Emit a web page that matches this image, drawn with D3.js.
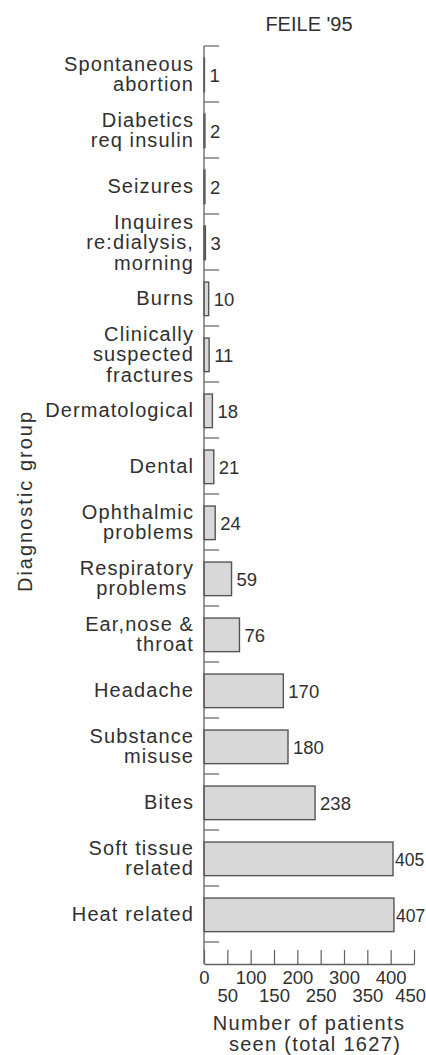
<!DOCTYPE html>
<html>
<head>
<meta charset="utf-8">
<script src="https://cdn.jsdelivr.net/npm/d3@7"></script>
<style>
  body { margin: 0; background: #fff; }
  svg text { font-family: "Liberation Sans", Arial, Helvetica, sans-serif; fill: #303030; }
</style>
</head>
<body>
<div id="chart"></div>
<script>
const categories = [
  'Spontaneous\nabortion',
  'Diabetics\nreq insulin',
  'Seizures',
  'Inquires\nre:dialysis,\nmorning',
  'Burns',
  'Clinically\nsuspected\nfractures',
  'Dermatological',
  'Dental',
  'Ophthalmic\nproblems',
  'Respiratory\nproblems\u00a0',
  'Ear,nose &\nthroat',
  'Headache',
  'Substance\nmisuse',
  'Bites',
  'Soft tissue\nrelated',
  'Heat related'
];
const patients = [1, 2, 2, 3, 10, 11, 18, 21, 24, 59, 76, 170, 180, 238, 405, 407];
const xTicks = [0, 50, 100, 150, 200, 250, 300, 350, 400, 450];
const chartTitle = "FEILE '95";
const yTitle = 'Diagnostic group';
const xTitle = ['Number of patients', 'seen (total 1627)'];

const width = 426;
const height = 1055;
const axisX = 204;
const bandTop = 46;
const bandBottom = 942;
const axisY = 964;
const lineHeight = 20.5;
const ink = '#303030';
const axisColor = '#606060';

const svg = d3.select('#chart').append('svg')
  .attr('width', width)
  .attr('height', height);

const x = d3.scaleLinear().domain([0, 450]).range([axisX, 414]);
const y = d3.scaleBand().domain(categories).range([bandTop, bandBottom]).padding(0);
const bw = y.bandwidth();

const data = categories.map((c, i) => ({ label: c, value: patients[i] }));

// title
svg.append('text')
  .attr('x', 309).attr('y', 31)
  .attr('text-anchor', 'middle')
  .style('font-size', '20px')
  .text(chartTitle);

// bars
svg.append('g').selectAll('rect')
  .data(data)
  .join('rect')
  .attr('x', x(0))
  .attr('y', d => y(d.label) + bw * 0.215)
  .attr('width', d => x(d.value) - x(0))
  .attr('height', bw * 0.6)
  .attr('fill', '#d8d8d8')
  .attr('stroke', '#555')
  .attr('stroke-width', 1.4);

// value labels (the two longest sit tight against their bars)
svg.append('g').selectAll('text')
  .data(data)
  .join('text')
  .attr('x', d => x(d.value) + (d.value > 400 ? 2 : 5))
  .attr('y', d => y(d.label) + bw / 2 + 1 + 6.5)
  .style('font-size', d => d.value > 400 ? '17.5px' : '18.5px')
  .text(d => d.value);

// category labels, one tspan per line
const labels = svg.append('g').selectAll('text')
  .data(data)
  .join('text')
  .attr('text-anchor', 'end')
  .style('font-size', '20px')
  .style('letter-spacing', '1.1px');

labels.each(function (d) {
  const lines = d.label.split('\n');
  const mid = y(d.label) + bw / 2 + 7;
  d3.select(this).selectAll('tspan')
    .data(lines)
    .join('tspan')
    .attr('x', 194)
    .attr('y', (l, i) => mid + (i - (lines.length - 1) / 2) * lineHeight)
    .text(l => l);
});

// y axis line with boundary ticks
svg.append('line')
  .attr('x1', axisX).attr('x2', axisX)
  .attr('y1', bandTop).attr('y2', axisY)
  .attr('stroke', axisColor).attr('stroke-width', 1.3);

const bounds = categories.map(c => y(c)).concat([bandBottom]);
svg.append('g').selectAll('line')
  .data(bounds)
  .join('line')
  .attr('x1', axisX).attr('x2', axisX + 15)
  .attr('y1', d => d).attr('y2', d => d)
  .attr('stroke', axisColor).attr('stroke-width', 1.2);

// x axis, ticks pointing up, labels staggered on two rows
const xAxis = svg.append('g')
  .attr('transform', `translate(0,${axisY})`)
  .call(d3.axisBottom(x).tickValues(xTicks).tickSizeInner(-14).tickSizeOuter(0));

xAxis.select('.domain').attr('stroke', axisColor).attr('stroke-width', 1.3);
xAxis.selectAll('.tick line').attr('stroke', axisColor).attr('stroke-width', 1.2);
xAxis.selectAll('.tick text')
  .attr('dy', null)
  .attr('y', (d, i) => i % 2 === 0 ? 19.5 : 37.5)
  .attr('fill', ink)
  .style('font-family', '"Liberation Sans", Arial, Helvetica, sans-serif')
  .style('font-size', '18.5px');

// last tick label would run off the right edge: pin it to the edge
xAxis.selectAll('.tick text')
  .filter(d => d === 450)
  .attr('text-anchor', 'end')
  .attr('x', 11.5);

// axis titles
svg.append('text')
  .attr('transform', 'translate(31.5,501) rotate(-90)')
  .attr('text-anchor', 'middle')
  .style('font-size', '20px')
  .style('letter-spacing', '2px')
  .text(yTitle);

svg.append('text')
  .attr('text-anchor', 'middle')
  .style('font-size', '20px')
  .style('letter-spacing', '1.3px')
  .selectAll('tspan')
  .data(xTitle)
  .join('tspan')
  .attr('x', (d, i) => i === 0 ? 309 : 315)
  .attr('y', (d, i) => 1030 + i * 20.5)
  .text(d => d);
</script>
</body>
</html>
